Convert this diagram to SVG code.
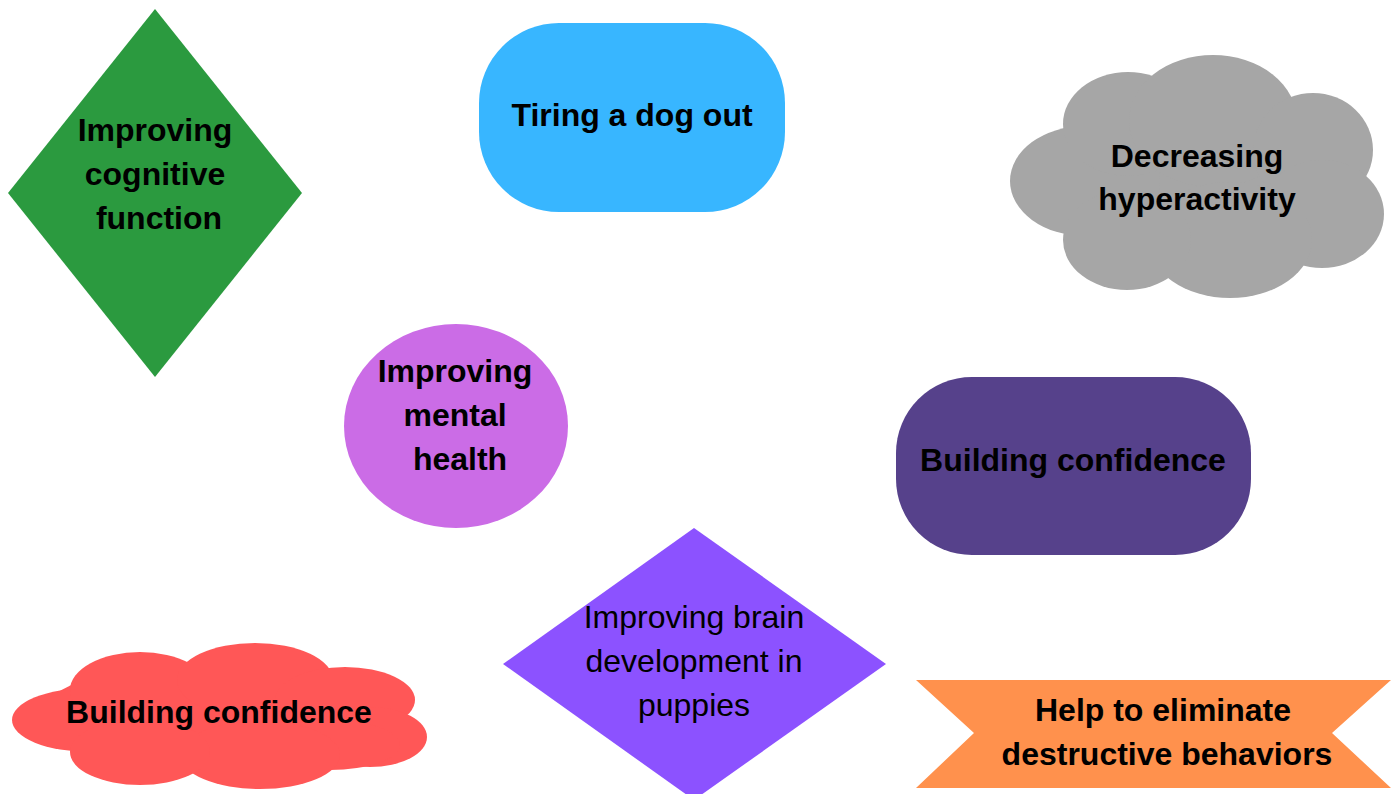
<svg xmlns="http://www.w3.org/2000/svg" width="1397" height="794" viewBox="0 0 1397 794">
<style>
text{font-family:"Liberation Sans",Arial,sans-serif;font-size:32px;fill:#000;text-anchor:middle}
.b{font-weight:bold}
</style>
<rect width="1397" height="794" fill="#fff"/>
<g id="node-cognitive">
<polygon points="155,9 302,193 155,377 8,193" fill="#2b9a3f"/>
<text class="b" x="155" y="141">Improving</text>
<text class="b" x="155" y="185">cognitive</text>
<text class="b" x="159" y="229">function</text>
</g>
<g id="node-tiring">
<rect x="479" y="23" width="306" height="189" rx="80" fill="#38b6ff"/>
<text class="b" x="632" y="126">Tiring a dog out</text>
</g>
<g id="node-hyperactivity" fill="#a6a6a6">
<ellipse cx="1197" cy="178" rx="150" ry="95"/>
<ellipse cx="1085" cy="181" rx="75" ry="55"/>
<ellipse cx="1128" cy="124" rx="65" ry="52"/>
<ellipse cx="1213" cy="121" rx="84" ry="66"/>
<ellipse cx="1313" cy="150" rx="60" ry="57"/>
<ellipse cx="1322" cy="214" rx="62" ry="54"/>
<ellipse cx="1230" cy="240" rx="82" ry="58"/>
<ellipse cx="1127" cy="240" rx="64" ry="50"/>
<text class="b" x="1197" y="167">Decreasing</text>
<text class="b" x="1197" y="210">hyperactivity</text>
</g>
<g id="node-mental">
<ellipse cx="456" cy="426" rx="112" ry="102" fill="#cb6ce6"/>
<text class="b" x="455" y="382">Improving</text>
<text class="b" x="455" y="426">mental</text>
<text class="b" x="460" y="470">health</text>
</g>
<g id="node-confidence-1">
<rect x="896" y="377" width="355" height="178" rx="76" fill="#56418b"/>
<text class="b" x="1073" y="471">Building confidence</text>
</g>
<g id="node-confidence-2" fill="#ff5757">
<ellipse cx="220" cy="716" rx="180" ry="55"/>
<ellipse cx="90" cy="720" rx="78" ry="32"/>
<ellipse cx="140" cy="690" rx="70" ry="38"/>
<ellipse cx="255" cy="680" rx="78" ry="37"/>
<ellipse cx="345" cy="700" rx="70" ry="33"/>
<ellipse cx="370" cy="737" rx="57" ry="30"/>
<ellipse cx="330" cy="745" rx="70" ry="25"/>
<ellipse cx="260" cy="755" rx="80" ry="34"/>
<ellipse cx="140" cy="752" rx="70" ry="33"/>
<text class="b" x="219" y="723">Building confidence</text>
</g>
<g id="node-brain">
<polygon points="694,528 886,664 694,800 503,664" fill="#8c52ff"/>
<text x="694" y="628">Improving brain</text>
<text x="694" y="672">development in</text>
<text x="694" y="716">puppies</text>
</g>
<g id="node-destructive">
<polygon points="916,680 1391,680 1332,733 1391,788 916,788 974,733" fill="#ff914d"/>
<text class="b" x="1163" y="721">Help to eliminate</text>
<text class="b" x="1167" y="765">destructive behaviors</text>
</g>
<g id="connectors"></g>
</svg>
